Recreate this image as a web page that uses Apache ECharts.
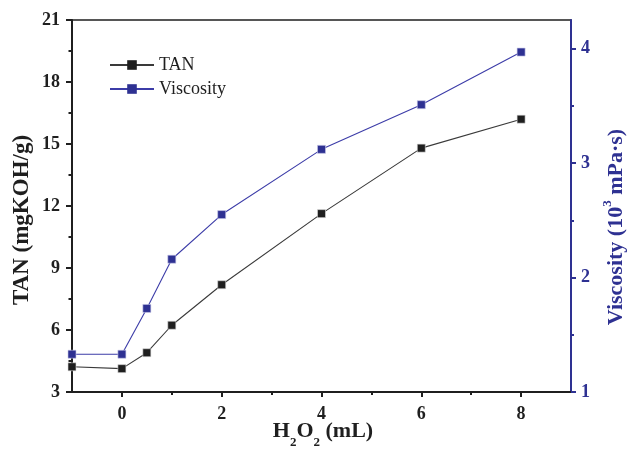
<!DOCTYPE html>
<html>
<head>
<meta charset="utf-8">
<script src="https://cdn.jsdelivr.net/npm/echarts@6/dist/echarts.min.js"></script>
<style>html,body{margin:0;padding:0;background:#fff}#c{width:627px;height:457px}</style>
</head>
<body>
<div id="c"></div>
<script>
// ---- data ----
const h2o2 = [-1, 0, 0.5, 1, 2, 4, 6, 8];
const tanValues = [4.22, 4.13, 4.90, 6.23, 8.19, 11.63, 14.80, 16.20];
const viscosityValues = [1.33, 1.33, 1.73, 2.16, 2.55, 3.12, 3.51, 3.97];
const xMajorTicks = [0, 2, 4, 6, 8];
const xMinorTicks = [1, 3, 5, 7];
const viscMajorTicks = [1, 2, 3, 4];
const viscMinorTicks = [1.5, 2.5, 3.5];
const seriesNames = ['TAN', 'Viscosity'];

const BLK = '#1f1f1f';
const BLUE = '#2e3192';
const FONT = '"Liberation Serif", "Times New Roman", serif';

const chart = echarts.init(document.getElementById('c'), null, {renderer: 'canvas'});
const tickLabel = (c) => ({fontFamily: FONT, fontWeight: 'bold', fontSize: 18, color: c});

chart.setOption({
  animation: false,
  backgroundColor: '#fff',
  grid: {left: 72, right: 56, top: 20, bottom: 65, containLabel: false, outerBoundsMode: 'none',
         show: true, borderColor: BLK, borderWidth: 1.5, backgroundColor: 'transparent'},
  legend: {
    data: seriesNames, orient: 'vertical', left: 104, top: 51,
    itemWidth: 44, itemHeight: 12, itemGap: 6,
    itemStyle: {borderWidth: 0},
    textStyle: {fontFamily: FONT, fontSize: 18, color: BLK}
  },
  xAxis: [{
    type: 'value', min: -1, max: 9, position: 'bottom',
    axisLine: {show: true, onZero: false, lineStyle: {color: BLK, width: 2}},
    axisTick: {show: true, customValues: xMajorTicks, length: 5, lineStyle: {color: BLK, width: 2}},
    axisLabel: Object.assign({customValues: xMajorTicks, margin: 13}, tickLabel(BLK)),
    splitLine: {show: false}
  }, {
    type: 'value', min: -1, max: 9, position: 'bottom',
    axisLine: {show: false, onZero: false},
    axisTick: {show: true, customValues: xMinorTicks, length: 3, lineStyle: {color: BLK, width: 2}},
    axisLabel: {show: false},
    splitLine: {show: false}
  }],
  yAxis: [{
    type: 'value', min: 3, max: 21, interval: 3, position: 'left',
    axisLine: {show: true, onZero: false, lineStyle: {color: BLK, width: 2}},
    axisTick: {show: true, length: 6, lineStyle: {color: BLK, width: 2}},
    minorTick: {show: true, splitNumber: 2, length: 3.5, lineStyle: {color: BLK, width: 2}},
    axisLabel: Object.assign({margin: 12}, tickLabel(BLK)),
    splitLine: {show: false}
  }, {
    type: 'value', min: 1, max: 4.25, position: 'right',
    axisLine: {show: true, onZero: false, lineStyle: {color: BLUE, width: 2}},
    axisTick: {show: true, customValues: viscMajorTicks, length: 5, lineStyle: {color: BLUE, width: 2}},
    axisLabel: Object.assign({customValues: viscMajorTicks, margin: 10}, tickLabel(BLUE)),
    splitLine: {show: false}
  }, {
    type: 'value', min: 1, max: 4.25, position: 'right',
    axisLine: {show: false, onZero: false},
    axisTick: {show: true, customValues: viscMinorTicks, length: 3, lineStyle: {color: BLUE, width: 2}},
    axisLabel: {show: false},
    splitLine: {show: false}
  }],
  series: [{
    name: seriesNames[0], type: 'line', xAxisIndex: 0, yAxisIndex: 0,
    data: h2o2.map((x, i) => [x, tanValues[i]]),
    symbol: 'rect', symbolSize: 8, clip: false,
    lineStyle: {color: '#3a3a3a', width: 1.1},
    itemStyle: {color: BLK, borderColor: '#d8d8d8', borderWidth: 0.6}
  }, {
    name: seriesNames[1], type: 'line', xAxisIndex: 0, yAxisIndex: 1,
    data: h2o2.map((x, i) => [x, viscosityValues[i]]),
    symbol: 'rect', symbolSize: 8, clip: false,
    lineStyle: {color: '#3c3ca8', width: 1.1},
    itemStyle: {color: BLUE, borderColor: '#c8c8e8', borderWidth: 0.6}
  }],
  graphic: [{
    type: 'text', x: 22, y: 220, rotation: Math.PI / 2,
    style: {text: 'TAN (mgKOH/g)', fontFamily: FONT, fontWeight: 'bold', fontSize: 23,
            fill: BLK, align: 'center', verticalAlign: 'middle'}
  }, {
    type: 'text', x: 323, y: 431,
    style: {
      text: '{b|H}{s|2}{b|O}{s|2}{b| (mL)}', align: 'center', verticalAlign: 'middle', fill: BLK,
      rich: {
        b: {fontFamily: FONT, fontWeight: 'bold', fontSize: 22, fill: BLK},
        s: {fontFamily: FONT, fontWeight: 'bold', fontSize: 13, fill: BLK, padding: [24, 0, 0, 0]}
      }
    }
  }, {
    type: 'text', x: 616, y: 227, rotation: Math.PI / 2,
    style: {
      text: '{b|Viscosity (10}{p|3}{b| mPa·s)}', align: 'center', verticalAlign: 'middle', fill: BLUE,
      rich: {
        b: {fontFamily: FONT, fontWeight: 'bold', fontSize: 22, fill: BLUE},
        p: {fontFamily: FONT, fontWeight: 'bold', fontSize: 13, fill: BLUE, padding: [0, 0, 16, 0]}
      }
    }
  }]
});
</script>
</body>
</html>
